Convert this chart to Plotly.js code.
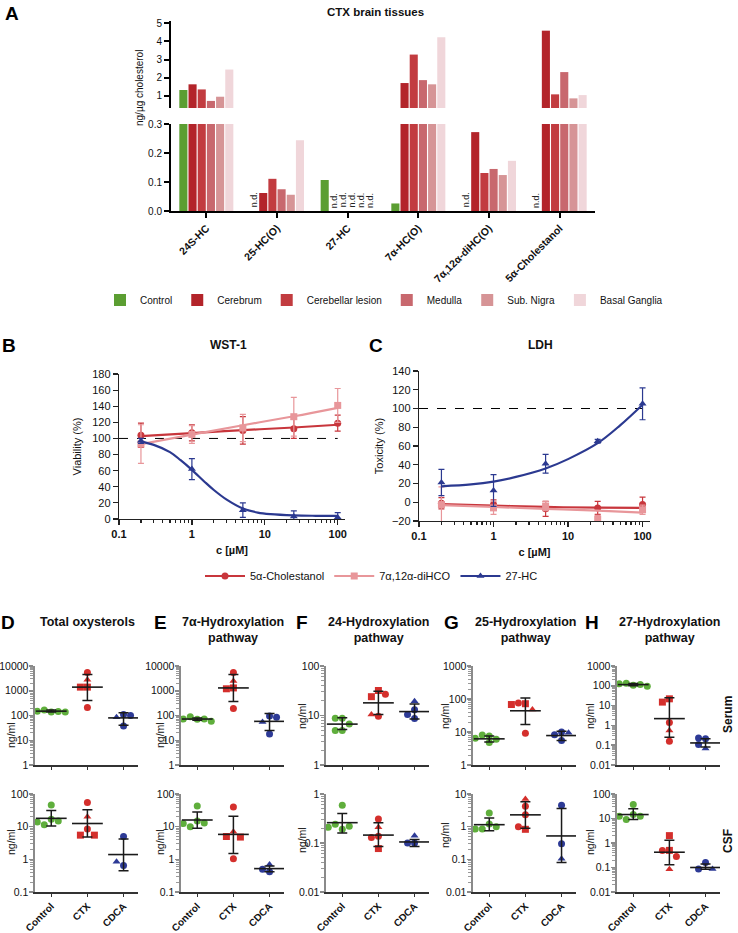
<!DOCTYPE html>
<html>
<head>
<meta charset="utf-8">
<script src="https://cdn.plot.ly/plotly-3.0.1.min.js"></script>
<style>
  body { margin: 0; background: #fff; }
  #chart { width: 738px; height: 933px; }
</style>
</head>
<body>
<div id="chart"></div>
<script>
// ---------- A: CTX brain tissues (ng/µg cholesterol) ----------
const tissueCats = ['24S-HC', '25-HC(O)', '27-HC', '7α-HC(O)', '7α,12α-diHC(O)', '5α-Cholestanol'];
const tissueNames = ['Control', 'Cerebrum', 'Cerebellar lesion', 'Medulla', 'Sub. Nigra', 'Basal Ganglia'];
const ctrlVals       = [1.33, null, 0.107, 0.026, null, null];
const cerebrumVals   = [1.64, 0.062, null, 1.71, 0.272, 4.58];
const cerebellarVals = [1.36, 0.111, null, 3.27, 0.131, 1.09];
const medullaVals    = [0.73, 0.075, null, 1.87, 0.145, 2.31];
const nigraVals      = [0.96, 0.056, null, 1.64, 0.124, 0.87];
const gangliaVals    = [2.45, 0.244, null, 4.22, 0.173, 1.05];

// ---------- B / C: cell assays ----------
const conc = [0.2, 1, 5, 25, 100];
const cholWst = [104, 107, 110, 112, 119];
const cholWstErr = [15, 10, 17, 12, 10];
const diWst = [93, 105, 113, 127, 141];
const diWstErr = [24, 11, 17, 24, 21];
const hc27Wst = [97, 62, 11, 3, 2];
const hc27WstErr = [3, 13, 9, 7, 6];
const cholWstFit = [103, 106.6, 110.3, 113.6, 117];
const diWstFit = [93, 104.7, 116.4, 127.5, 138];
const fitX = [0.2, 0.3, 0.5, 0.7, 1, 1.5, 2, 3, 5, 8, 12, 25, 50, 100];
const hc27WstFit = [96, 92, 83, 73, 61, 46, 36, 24, 13, 8, 6, 4.5, 4, 3.8];

const cholLdh = [-1, -2.5, -7, -6, -2.5];
const cholLdhErr = [6, 5, 8, 7, 8];
const diLdh = [-2.5, -6, -4, -18, -8];
const diLdhErr = [19, 7, 5, 4, 5];
const hc27Ldh = [21, 12.5, 41, 65, 105];
const hc27LdhErr = [14, 17, 10, 2, 17];
const cholLdhFit = [-2, -3.5, -5, -5.8, -6];
const diLdhFit = [-3, -5, -7, -9, -11];
const ldhFitX = [0.2, 0.5, 1, 2, 5, 10, 25, 50, 100];
const hc27LdhFit = [17, 19, 22, 27, 36, 46, 63, 82, 104];
const refX = [0.1, 100];
const refY = [100, 100];

// ---------- D-H: serum (top) and CSF (bottom), ng/ml ----------
const groups = ['Control', 'CTX', 'CDCA'];
// patient marker kind: c = circle, t = triangle, s = square
const totSerCtrl = [140, 165, 145, 150, 140];
const totSerCtx = [5500, 2800, 1400, 1400, 210];
const totSerCtxKind = ['c', 't', 's', 's', 'c'];
const totSerCdca = [110, 85, 38, 100];
const totSerCdcaKind = ['c', 't', 'c', 'c'];
const totSerMean = [150, 1400, 80], totSerLo = [138, 400, 40], totSerHi = [165, 4500, 130];
const totCsfCtrl = [17, 11.5, 46, 15, 14];
const totCsfCtx = [55, 20, 8.5, 5.5, 5.5];
const totCsfCtxKind = ['c', 't', 'c', 's', 's'];
const totCsfCdca = [5, 0.65, 0.85];
const totCsfCdcaKind = ['c', 'c', 't'];
const totCsfMean = [18, 12.5, 1.4], totCsfLo = [10.5, 4.8, 0.45], totCsfHi = [31, 33, 4.2];

const a7SerCtrl = [70, 90, 72, 72, 58];
const a7SerCtx = [5500, 2500, 1300, 1200, 190];
const a7SerCtxKind = ['c', 't', 's', 's', 'c'];
const a7SerCdca = [95, 55, 18, 85];
const a7SerCdcaKind = ['c', 't', 'c', 'c'];
const a7SerMean = [72, 1300, 58], a7SerLo = [65, 370, 25], a7SerHi = [80, 4500, 120];
const a7CsfCtrl = [15, 10, 43, 13, 12.5];
const a7CsfCtx = [40, 7, 5, 4.8, 1.05];
const a7CsfCtxKind = ['c', 't', 's', 's', 'c'];
const a7CsfCdca = [0.42, 0.7, 0.5];
const a7CsfCdcaKind = ['c', 't', 'c'];
const a7CsfMean = [16, 5.8, 0.52], a7CsfLo = [9, 1.5, 0.42], a7CsfHi = [28, 21, 0.62];

const h24SerCtrl = [8.8, 8.8, 6.7, 5, 5];
const h24SerCtx = [32, 24, 27, 9.7, 10.5];
const h24SerCtxKind = ['s', 's', 'c', 'c', 't'];
const h24SerCdca = [19.5, 13, 8.7, 10.5];
const h24SerCdcaKind = ['t', 'c', 'c', 'c'];
const h24SerMean = [6.7, 18, 12], h24SerLo = [5.2, 10.5, 8.5], h24SerHi = [9, 31, 17];
const h24CsfCtrl = [0.19, 0.59, 0.24, 0.22, 0.21];
const h24CsfCtx = [0.31, 0.21, 0.137, 0.13, 0.077];
const h24CsfCtxKind = ['c', 't', 'c', 'c', 's'];
const h24CsfCdca = [0.14, 0.1, 0.1];
const h24CsfCdcaKind = ['t', 'c', 'c'];
const h24CsfMean = [0.26, 0.145, 0.105], h24CsfLo = [0.16, 0.085, 0.085], h24CsfHi = [0.4, 0.26, 0.118];

const h25SerCtrl = [7.6, 4.8, 8.1, 6, 6.5];
const h25SerCtx = [72, 75, 48, 68, 9.1];
const h25SerCtxKind = ['s', 'c', 't', 's', 'c'];
const h25SerCdca = [10, 8.3, 5.5, 9.5];
const h25SerCdcaKind = ['c', 'c', 'c', 't'];
const h25SerMean = [6.2, 44, 7.8], h25SerLo = [5, 17, 5.5], h25SerHi = [7.5, 108, 10.5];
const h25CsfCtrl = [1.2, 0.85, 2.6, 1.0, 0.85];
const h25CsfCtx = [7, 4.2, 2.3, 0.83, 1.0];
const h25CsfCtxKind = ['t', 'c', 'c', 's', 'c'];
const h25CsfCdca = [4.5, 0.3, 0.105];
const h25CsfCdcaKind = ['c', 'c', 't'];
const h25CsfMean = [1.15, 2.3, 0.52], h25CsfLo = [0.75, 0.9, 0.08], h25CsfHi = [1.85, 5.8, 3.6];

const h27SerCtrl = [108, 136, 117, 126, 96];
const h27SerCtx = [22, 15, 1.4, 0.55, 0.16];
const h27SerCtxKind = ['s', 's', 'c', 't', 'c'];
const h27SerCdca = [0.21, 0.23, 0.107, 0.069];
const h27SerCdcaKind = ['c', 'c', 'c', 't'];
const h27SerMean = [115, 2.2, 0.13], h27SerLo = [100, 0.25, 0.08], h27SerHi = [130, 25, 0.21];
const h27CsfCtrl = [14.5, 9.1, 37, 12.5, 12.4];
const h27CsfCtx = [2.0, 0.5, 0.5, 0.28, 0.085];
const h27CsfCtxKind = ['s', 's', 'c', 'c', 't'];
const h27CsfCdca = [0.16, 0.087, 0.087];
const h27CsfCdcaKind = ['c', 'c', 't'];
const h27CsfMean = [14.5, 0.42, 0.1], h27CsfLo = [9, 0.13, 0.085], h27CsfHi = [25, 1.3, 0.14];

// ---------- helpers ----------
const W = 738, H = 933;
const px = x => x / W;
const py = y => 1 - y / H;
const FONT = 'Liberation Sans, Arial, sans-serif';

function minorLog(a, b) {
  const out = [];
  for (let e = a; e < b; e++) for (let m = 2; m < 10; m++) out.push(m * Math.pow(10, e));
  return out;
}
function decades(a, b) {
  const out = [];
  for (let e = a; e <= b; e++) out.push(Number(Math.pow(10, e).toPrecision(1)));
  return out;
}
function label(text, x, y, opts) {
  return Object.assign({ xref: 'paper', yref: 'paper', x: px(x), y: py(y), text: text,
    showarrow: false, xanchor: 'center', yanchor: 'middle', font: { family: FONT, size: 11, color: '#111' } }, opts || {});
}

const traces = [];
const annotations = [];
const layout = {
  width: W, height: H, margin: { l: 0, r: 0, t: 0, b: 0 },
  paper_bgcolor: '#fff', plot_bgcolor: 'rgba(0,0,0,0)',
  font: { family: FONT, size: 11, color: '#111' },
  showlegend: true, barmode: 'group', bargap: 0.22, bargroupgap: 0.12,
  annotations: annotations
};

// ---------- panel A ----------
const tissueColors = ['#5b9e32', '#b3242a', '#c23c40', '#c8686e', '#d69496', '#f0d6da'];
const tissueSeries = [ctrlVals, cerebrumVals, cerebellarVals, medullaVals, nigraVals, gangliaVals];
tissueSeries.forEach((vals, i) => {
  traces.push({ type: 'bar', x: tissueCats, y: vals, name: tissueNames[i], marker: { color: tissueColors[i] },
    xaxis: 'x', yaxis: 'y', legend: 'legend', hoverinfo: 'skip' });
  traces.push({ type: 'bar', x: tissueCats, y: vals, name: tissueNames[i], marker: { color: tissueColors[i] },
    xaxis: 'x2', yaxis: 'y2', showlegend: false, hoverinfo: 'skip' });
});
const groupW = 1 - layout.bargap, slot = groupW / tissueSeries.length;
tissueSeries.forEach((vals, i) => vals.forEach((v, c) => {
  if (v === null) annotations.push({ xref: 'x', yref: 'y', x: c - groupW / 2 + slot * (i + 0.5), y: 0.037,
    text: 'n.d.', textangle: -90, showarrow: false, font: { family: FONT, size: 9, color: '#222' } });
}));
const axA = { showline: true, linecolor: '#000', linewidth: 2, ticks: 'outside', ticklen: 5, tickwidth: 2,
  tickcolor: '#000', showgrid: false, zeroline: false, tickfont: { family: FONT, size: 10, color: '#111' } };
layout.xaxis = Object.assign({}, axA, { domain: [px(171), px(595)], anchor: 'y', type: 'category', range: [-0.5, 5.5],
  tickangle: -45, tickfont: { family: FONT, size: 10.5, weight: 'bold', color: '#111' } });
layout.yaxis = Object.assign({}, axA, { domain: [py(211), py(124)], anchor: 'x', range: [0, 0.3],
  tickvals: [0, 0.1, 0.2, 0.3], ticktext: ['0.0', '0.1', '0.2', '0.3'] });
layout.xaxis2 = { domain: [px(171), px(595)], anchor: 'y2', type: 'category', range: [-0.5, 5.5], visible: false };
layout.yaxis2 = Object.assign({}, axA, { domain: [py(108), py(21)], anchor: 'x2', range: [0.342, 5.11],
  tickvals: [1, 2, 3, 4, 5] });
layout.legend = { orientation: 'h', x: px(100), y: py(300), xanchor: 'left', yanchor: 'middle',
  font: { family: FONT, size: 10, color: '#111' }, bgcolor: 'rgba(0,0,0,0)', itemwidth: 30 };
annotations.push(label('A', 12, 13, { font: { family: FONT, size: 19, weight: 'bold', color: '#000' } }));
annotations.push(label('CTX brain tissues', 375, 12, { font: { family: FONT, size: 11.5, weight: 'bold', color: '#111' } }));
annotations.push(label('ng/µg cholesterol', 139, 88, { textangle: -90, font: { family: FONT, size: 10, color: '#111' } }));

// ---------- panels B and C ----------
const red = '#c8363c', pink = '#e8969a', navy = '#2b3990';
const cellSeries = [
  { name: '5α-Cholestanol', color: red, symbol: 'circle' },
  { name: '7α,12α-diHCO', color: pink, symbol: 'square' },
  { name: '27-HC', color: navy, symbol: 'triangle-up' }
];
function assay(xa, ya, series) {
  traces.push({ x: refX, y: refY, mode: 'lines', line: { color: '#000', width: 1, dash: 'dash' },
    xaxis: xa, yaxis: ya, showlegend: false, hoverinfo: 'skip' });
  series.forEach((s, i) => {
    const st = cellSeries[i];
    traces.push({ x: s.fx, y: s.fit, mode: 'lines', line: { color: st.color, width: 2.2, shape: 'spline' },
      xaxis: xa, yaxis: ya, showlegend: false, hoverinfo: 'skip' });
    traces.push({ x: conc, y: s.y, mode: 'markers', marker: { color: st.color, symbol: st.symbol, size: 7 },
      error_y: { type: 'data', array: s.err, color: st.color, thickness: 1.2, width: 3 },
      xaxis: xa, yaxis: ya, showlegend: false, hoverinfo: 'skip' });
  });
}
assay('x3', 'y3', [
  { y: cholWst, err: cholWstErr, fx: conc, fit: cholWstFit },
  { y: diWst, err: diWstErr, fx: conc, fit: diWstFit },
  { y: hc27Wst, err: hc27WstErr, fx: fitX, fit: hc27WstFit }
]);
assay('x4', 'y4', [
  { y: cholLdh, err: cholLdhErr, fx: conc, fit: cholLdhFit },
  { y: diLdh, err: diLdhErr, fx: conc, fit: diLdhFit },
  { y: hc27Ldh, err: hc27LdhErr, fx: ldhFitX, fit: hc27LdhFit }
]);
cellSeries.forEach(st => traces.push({ x: [null], y: [null], mode: 'lines+markers', name: st.name,
  line: { color: st.color, width: 2.2 }, marker: { color: st.color, symbol: st.symbol, size: 7 },
  xaxis: 'x3', yaxis: 'y3', legend: 'legend2', hoverinfo: 'skip' }));

const axBC = { showline: true, linecolor: '#222', linewidth: 1.2, ticks: 'outside', ticklen: 5, tickwidth: 1.2,
  tickcolor: '#222', showgrid: false, zeroline: false, tickfont: { family: FONT, size: 11, color: '#111' } };
function logX(domain, ya) {
  return Object.assign({}, axBC, { domain: domain, anchor: ya, type: 'log', range: [-1, 2.1],
    tickvals: decades(-1, 2), ticktext: decades(-1, 2).map(String),
    minor: { ticks: 'outside', ticklen: 3, tickcolor: '#222', tickvals: minorLog(-1, 2) },
    tickfont: { family: FONT, size: 11, weight: 'bold', color: '#111' },
    title: { text: 'c [µM]', standoff: 6, font: { family: FONT, size: 11, weight: 'bold', color: '#111' } } });
}
layout.xaxis3 = logX([px(119), px(345)], 'y3');
layout.yaxis3 = Object.assign({}, axBC, { domain: [py(519), py(374)], anchor: 'x3', range: [0, 180], dtick: 20,
  title: { text: 'Viability (%)', standoff: 8, font: { family: FONT, size: 11, color: '#111' } } });
layout.xaxis4 = logX([px(419), px(650)], 'y4');
layout.yaxis4 = Object.assign({}, axBC, { domain: [py(521), py(371)], anchor: 'x4', range: [-20, 140], dtick: 20,
  title: { text: 'Toxicity (%)', standoff: 6, font: { family: FONT, size: 11, color: '#111' } } });
layout.legend2 = { orientation: 'h', x: px(200), y: py(576), xanchor: 'left', yanchor: 'middle',
  font: { family: FONT, size: 11, color: '#111' }, bgcolor: 'rgba(0,0,0,0)', itemwidth: 40 };
annotations.push(label('B', 9, 345, { font: { family: FONT, size: 19, weight: 'bold', color: '#000' } }));
annotations.push(label('WST-1', 228, 345, { font: { family: FONT, size: 12, weight: 'bold', color: '#111' } }));
annotations.push(label('C', 376, 345, { font: { family: FONT, size: 19, weight: 'bold', color: '#000' } }));
annotations.push(label('LDH', 540, 345, { font: { family: FONT, size: 12, weight: 'bold', color: '#111' } }));

// ---------- panels D-H ----------
const green = '#5fae3c', dotRed = '#d42f2c', blue = '#2d3a96';
const kindSymbol = { c: 'circle', t: 'triangle-up', s: 'square' };
const dotPanels = [
  { letter: 'D', lx: 8, title: 'Total oxysterols', x0: 35, ylab: [11, 735, 842],
    top: { range: [0, 4], ctrl: totSerCtrl, ctx: totSerCtx, ctxK: totSerCtxKind, cdca: totSerCdca, cdcaK: totSerCdcaKind, mean: totSerMean, lo: totSerLo, hi: totSerHi },
    bot: { range: [-1, 2], ctrl: totCsfCtrl, ctx: totCsfCtx, ctxK: totCsfCtxKind, cdca: totCsfCdca, cdcaK: totCsfCdcaKind, mean: totCsfMean, lo: totCsfLo, hi: totCsfHi } },
  { letter: 'E', lx: 160, title: '7α-Hydroxylation<br>pathway', x0: 181, ylab: [160, 735, 842],
    top: { range: [0, 4], ctrl: a7SerCtrl, ctx: a7SerCtx, ctxK: a7SerCtxKind, cdca: a7SerCdca, cdcaK: a7SerCdcaKind, mean: a7SerMean, lo: a7SerLo, hi: a7SerHi },
    bot: { range: [-1, 2], ctrl: a7CsfCtrl, ctx: a7CsfCtx, ctxK: a7CsfCtxKind, cdca: a7CsfCdca, cdcaK: a7CsfCdcaKind, mean: a7CsfMean, lo: a7CsfLo, hi: a7CsfHi } },
  { letter: 'F', lx: 302, title: '24-Hydroxylation<br>pathway', x0: 326, ylab: [302, 716, 840],
    top: { range: [0, 2], ctrl: h24SerCtrl, ctx: h24SerCtx, ctxK: h24SerCtxKind, cdca: h24SerCdca, cdcaK: h24SerCdcaKind, mean: h24SerMean, lo: h24SerLo, hi: h24SerHi },
    bot: { range: [-2, 0], ctrl: h24CsfCtrl, ctx: h24CsfCtx, ctxK: h24CsfCtxKind, cdca: h24CsfCdca, cdcaK: h24CsfCdcaKind, mean: h24CsfMean, lo: h24CsfLo, hi: h24CsfHi } },
  { letter: 'G', lx: 451, title: '25-Hydroxylation<br>pathway', x0: 473, ylab: [445, 716, 835],
    top: { range: [0, 3], ctrl: h25SerCtrl, ctx: h25SerCtx, ctxK: h25SerCtxKind, cdca: h25SerCdca, cdcaK: h25SerCdcaKind, mean: h25SerMean, lo: h25SerLo, hi: h25SerHi },
    bot: { range: [-2, 1], ctrl: h25CsfCtrl, ctx: h25CsfCtx, ctxK: h25CsfCtxKind, cdca: h25CsfCdca, cdcaK: h25CsfCdcaKind, mean: h25CsfMean, lo: h25CsfLo, hi: h25CsfHi } },
  { letter: 'H', lx: 592, title: '27-Hydroxylation<br>pathway', x0: 617, ylab: [590, 716, 842],
    top: { range: [-2, 3], ctrl: h27SerCtrl, ctx: h27SerCtx, ctxK: h27SerCtxKind, cdca: h27SerCdca, cdcaK: h27SerCdcaKind, mean: h27SerMean, lo: h27SerLo, hi: h27SerHi },
    bot: { range: [-2, 2], ctrl: h27CsfCtrl, ctx: h27CsfCtx, ctxK: h27CsfCtxKind, cdca: h27CsfCdca, cdcaK: h27CsfCdcaKind, mean: h27CsfMean, lo: h27CsfLo, hi: h27CsfHi } }
];
const AXW = 103, XR = [-0.45, 2.4], ROWS = { top: [666, 765], bot: [794, 892] };
const unitPx = AXW / (XR[1] - XR[0]);

// simple beeswarm: spread points of a group sideways where they would overlap
function swarm(vals, decPx) {
  const d = 7, placed = [];
  return vals.map(v => {
    const yp = Math.log10(v) * decPx;
    for (let k = 0; k < 30; k++) {
      const off = (k % 2 ? -1 : 1) * Math.ceil(k / 2) * d;
      if (placed.every(p => Math.hypot(p[0] - off, p[1] - yp) >= d - 0.5)) {
        placed.push([off, yp]);
        return off / unitPx;
      }
    }
    return 0;
  });
}

let axisN = 5;
dotPanels.forEach(p => {
  ['top', 'bot'].forEach((row, ri) => {
    const r = p[row], n = axisN++;
    const xa = 'x' + n, ya = 'y' + n;
    const [t, b] = ROWS[row];
    const decPx = (b - t) / (r.range[1] - r.range[0]);
    const sets = [
      { vals: r.ctrl, kinds: r.ctrl.map(() => 'c'), color: green },
      { vals: r.ctx, kinds: r.ctxK, color: dotRed },
      { vals: r.cdca, kinds: r.cdcaK, color: blue }
    ];
    sets.forEach((s, gi) => {
      const offs = swarm(s.vals, decPx);
      traces.push({ x: offs.map(o => gi + o), y: s.vals, mode: 'markers', xaxis: xa, yaxis: ya,
        marker: { color: s.color, size: 7, symbol: s.kinds.map(k => kindSymbol[k]) },
        showlegend: false, hoverinfo: 'skip' });
    });
    traces.push({ x: [0, 1, 2], y: r.mean, mode: 'markers', xaxis: xa, yaxis: ya,
      marker: { symbol: 'line-ew', size: 22, color: '#1a1a1a', line: { width: 1.6, color: '#1a1a1a' } },
      error_y: { type: 'data', symmetric: false, array: r.hi.map((h, i) => h - r.mean[i]),
        arrayminus: r.lo.map((l, i) => r.mean[i] - l), color: '#1a1a1a', thickness: 1.5, width: 5 },
      showlegend: false, hoverinfo: 'skip' });
    const dv = decades(r.range[0], r.range[1]);
    layout['xaxis' + n] = { domain: [px(p.x0), px(p.x0 + AXW)], anchor: ya, range: XR, showline: true,
      linecolor: '#333', linewidth: 1.5, ticks: 'outside', ticklen: 3, tickwidth: 1.5, tickcolor: '#333',
      tickvals: [0, 1, 2], ticktext: groups, showticklabels: row === 'bot', tickangle: -45,
      tickfont: { family: FONT, size: 10, weight: 'bold', color: '#111' }, showgrid: false, zeroline: false };
    layout['yaxis' + n] = { domain: [py(b), py(t)], anchor: xa, type: 'log', range: r.range, showline: true,
      linecolor: '#8a8a8a', linewidth: 2.5, ticks: 'outside', ticklen: 4, tickwidth: 1.5, tickcolor: '#8a8a8a',
      tickvals: dv, ticktext: dv.map(String), ticklabelstandoff: -2,
      minor: { ticks: 'outside', ticklen: 2.5, tickwidth: 1, tickcolor: '#999', tickvals: minorLog(r.range[0], r.range[1]) },
      tickfont: { family: FONT, size: 10.5, color: '#111' }, showgrid: false, zeroline: false };
    annotations.push(label('ng/ml', p.ylab[0], p.ylab[1 + ri],
      { textangle: -90, font: { family: FONT, size: 10.5, color: '#111' } }));
  });
  annotations.push(label(p.letter, p.lx, 622, { font: { family: FONT, size: 19, weight: 'bold', color: '#000' } }));
  annotations.push(label(p.title, p.x0 + 52, 613, { yanchor: 'top',
    font: { family: FONT, size: 12.5, weight: 'bold', color: '#111' } }));
});
annotations.push(label('Serum', 728, 715, { textangle: -90, font: { family: FONT, size: 12, weight: 'bold', color: '#111' } }));
annotations.push(label('CSF', 728, 841, { textangle: -90, font: { family: FONT, size: 12, weight: 'bold', color: '#111' } }));

Plotly.newPlot('chart', traces, layout, { displayModeBar: false, staticPlot: true });
</script>
</body>
</html>
